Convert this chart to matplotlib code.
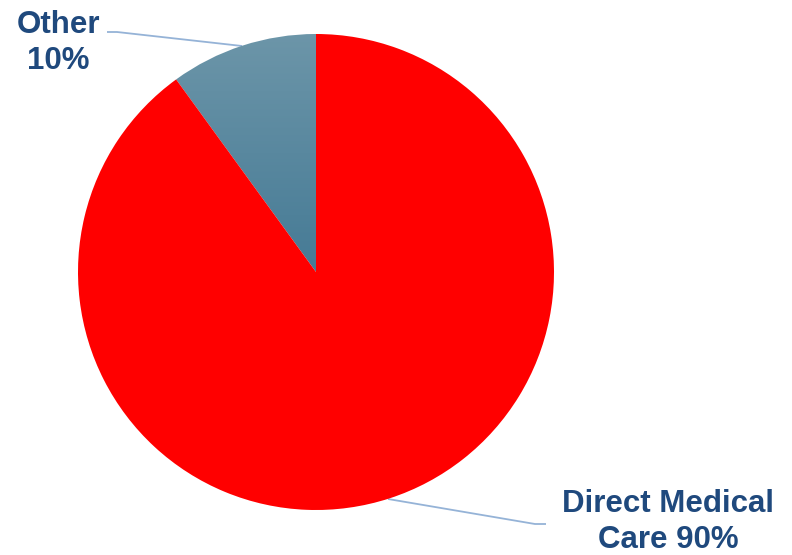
import matplotlib
matplotlib.use("Agg")
import matplotlib.pyplot as plt
import numpy as np
from matplotlib.colors import LinearSegmentedColormap

categories = ["Other", "Direct Medical Care"]
values = [10, 90]
label_texts = ["Other\n10%", "Direct Medical\nCare 90%"]

plt.rcParams['font.family'] = ['Liberation Sans', 'DejaVu Sans']

W, H = 792, 555
fig = plt.figure(figsize=(W / 100, H / 100), dpi=100)
cx, cy, R = 316, 272, 238
ax = fig.add_axes([(cx - R) / W, (H - cy - R) / H, 2 * R / W, 2 * R / H])
ax.set_xlim(-1, 1)
ax.set_ylim(-1, 1)
ax.set_aspect('equal')
ax.axis('off')

wedges, _ = ax.pie(values, startangle=90, counterclock=True,
                   colors=["#5E8CA2", "#FF0000"], radius=1,
                   wedgeprops=dict(linewidth=0))

# gradient fill for the "Other" wedge
w = wedges[0]
w.set_facecolor("none")
cmap = LinearSegmentedColormap.from_list("g", ["#457A95", "#6D96A9"])
grad = np.linspace(0, 1, 256).reshape(-1, 1)
im = ax.imshow(grad, extent=(-0.7, 0.02, -0.02, 1.02), origin='lower',
               cmap=cmap, aspect='auto', zorder=w.get_zorder() - 0.1,
               interpolation='bilinear')
im.set_clip_path(w)
ax.set_xlim(-1, 1)
ax.set_ylim(-1, 1)

def px(x, y):
    return ((x - cx) / R, (cy - y) / R)

line_color = "#95B3D7"
txt_color = "#1F497D"

# leader lines
pts = [px(107, 32), px(117, 32), px(242, 46)]
ax.plot([p[0] for p in pts], [p[1] for p in pts], color=line_color, lw=1.3,
        clip_on=False, zorder=0.5, solid_capstyle='butt')
pts = [px(388, 499), px(535, 524), px(546, 524)]
ax.plot([p[0] for p in pts], [p[1] for p in pts], color=line_color, lw=1.3,
        clip_on=False, zorder=0.5, solid_capstyle='butt')

x0, y0 = px(58, 69)
ax.text(x0, y0, label_texts[0], ha='center', va='baseline', fontsize=22.5,
        fontweight='bold', color=txt_color, linespacing=1.27, clip_on=False)
x1, y1 = px(668, 548)
ax.text(x1, y1, label_texts[1], ha='center', va='baseline', fontsize=22.5,
        fontweight='bold', color=txt_color, linespacing=1.25, clip_on=False)

fig.savefig("out.png", dpi=100)
